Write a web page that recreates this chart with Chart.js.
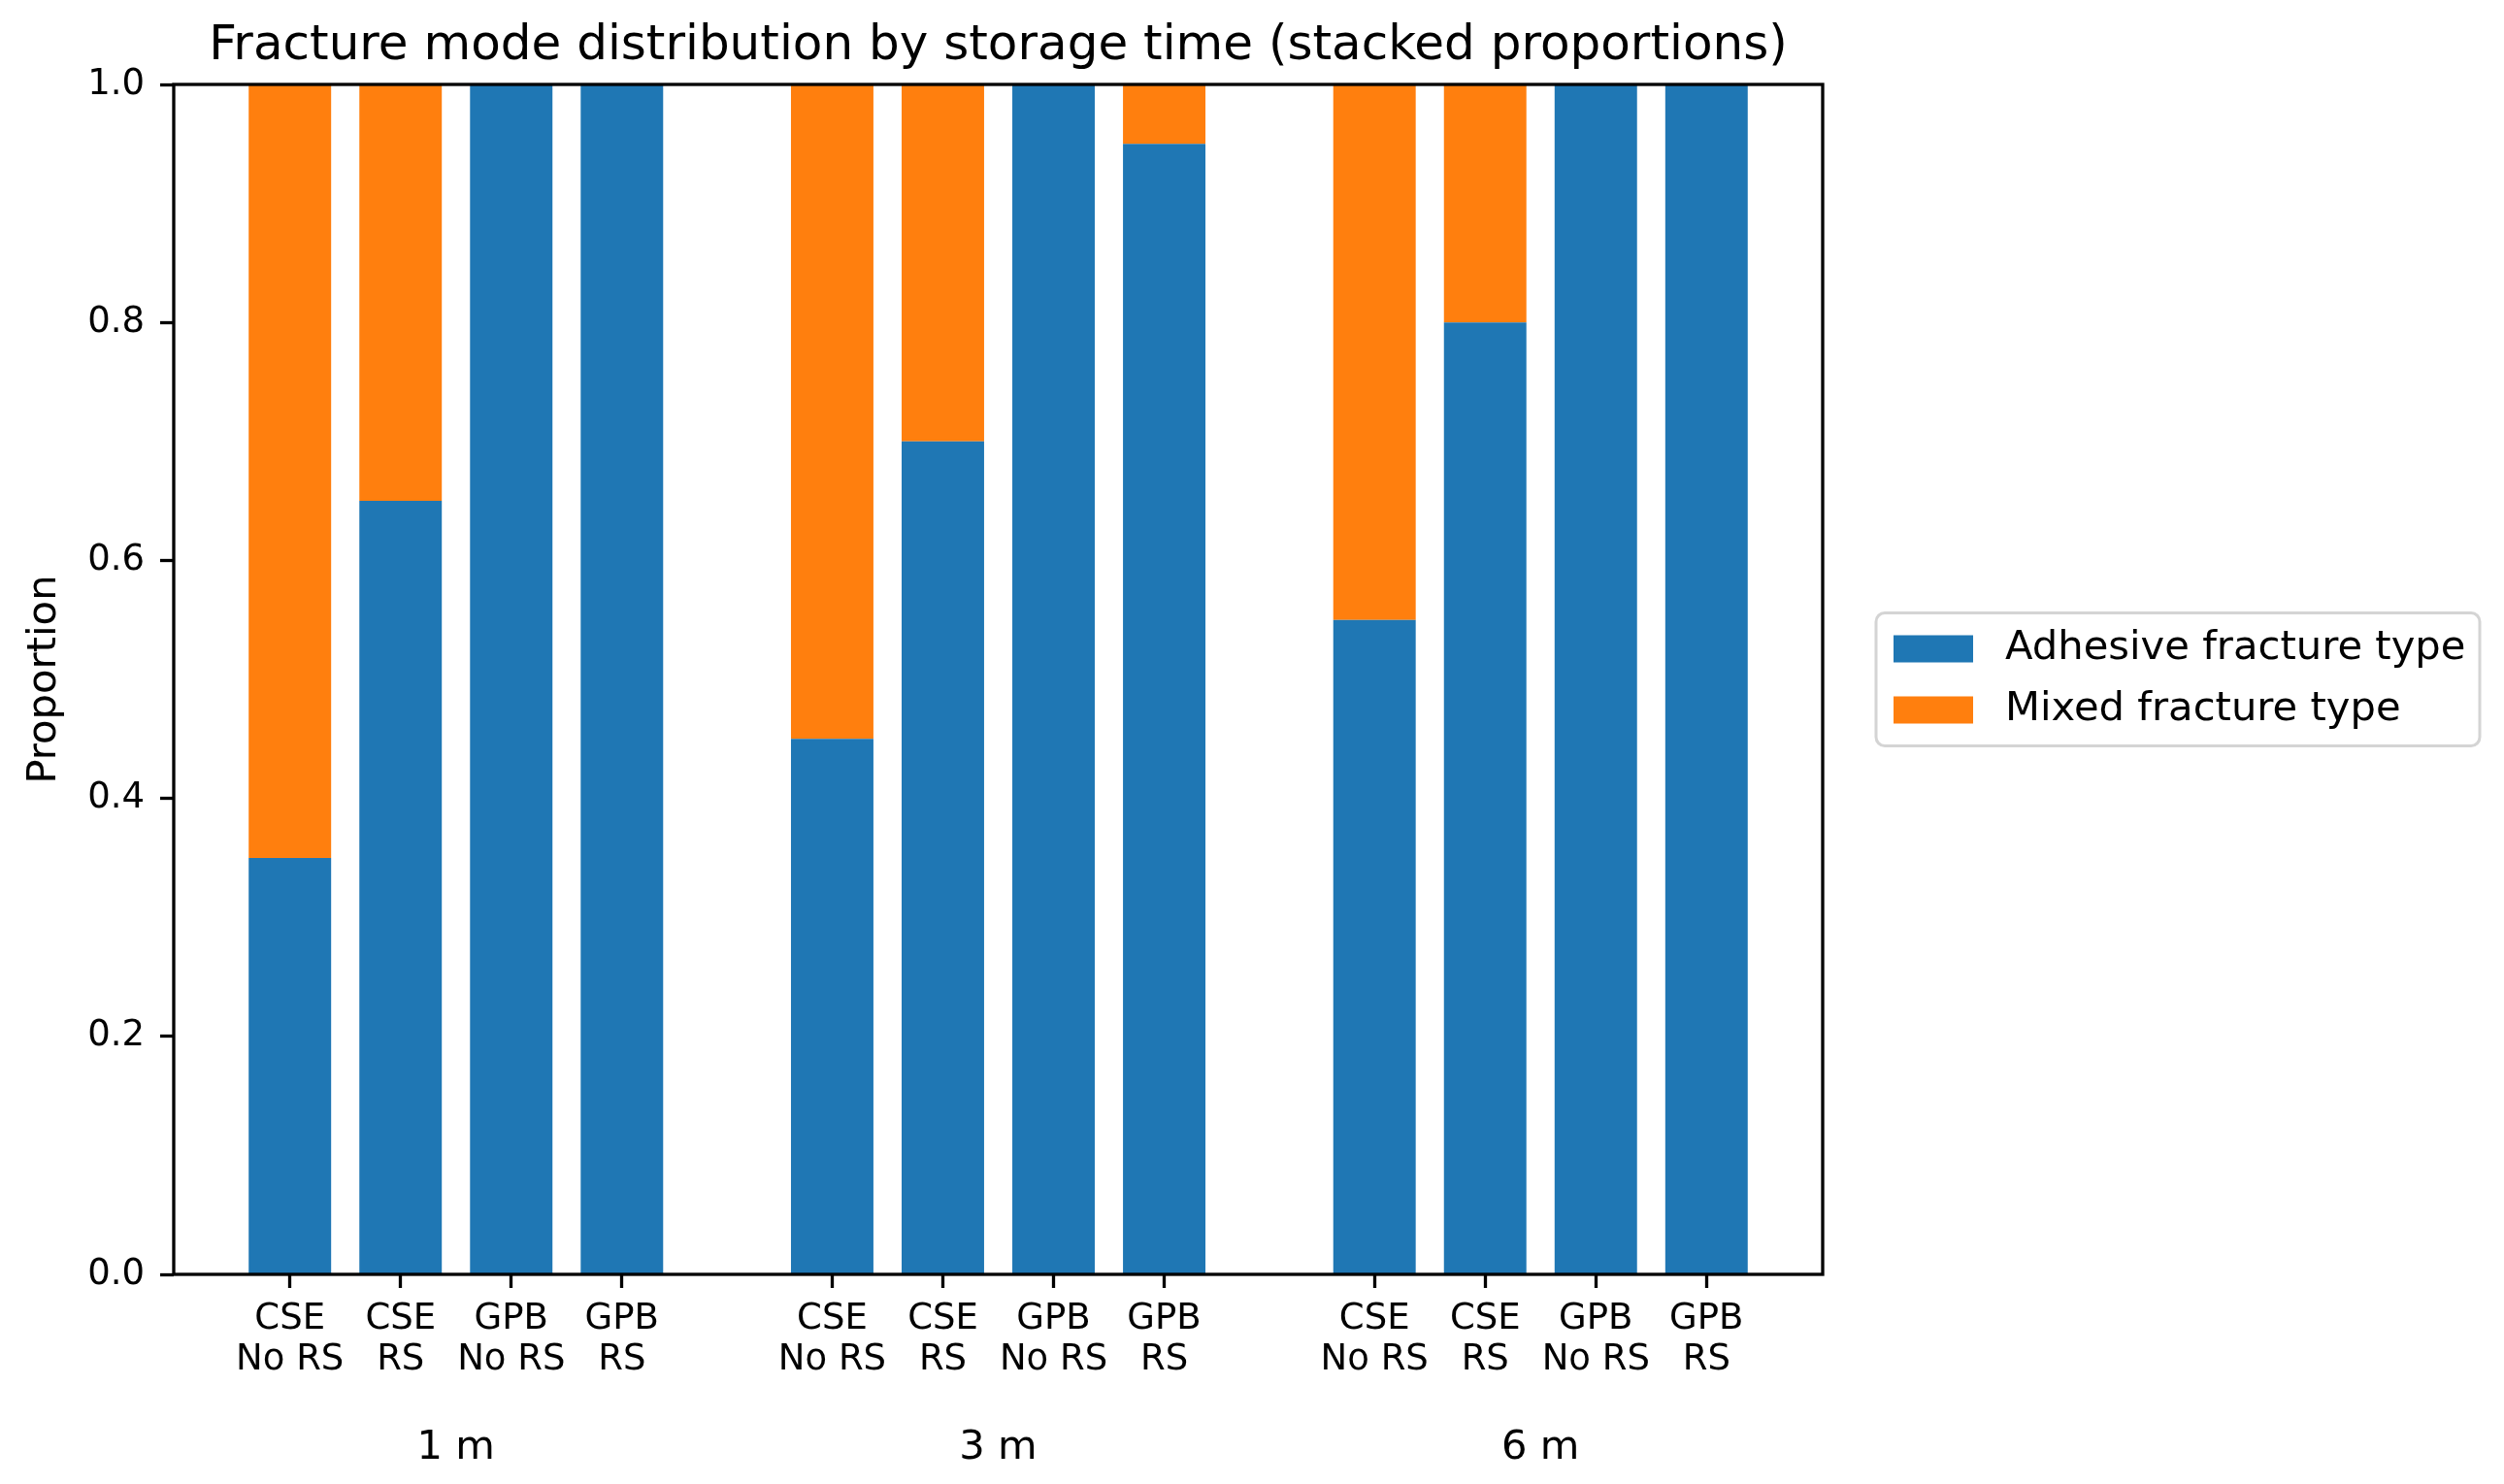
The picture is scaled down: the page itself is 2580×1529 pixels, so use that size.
<!DOCTYPE html>
<html>
<head>
<meta charset="utf-8">
<script src="https://cdn.jsdelivr.net/npm/chart.js@4.4.1/dist/chart.umd.min.js"></script>
<style>
  html, body { margin: 0; padding: 0; background: #ffffff; }
  #wrap { width: 2580px; height: 1529px; }
</style>
</head>
<body>
<div id="wrap"><canvas id="c" width="2580" height="1529"></canvas></div>
<script>
// ---- data ----
const storageTimes = ['1 m', '3 m', '6 m'];
const conditionLabels = [['CSE', 'No RS'], ['CSE', 'RS'], ['GPB', 'No RS'], ['GPB', 'RS']];
const seriesNames = ['Adhesive fracture type', 'Mixed fracture type'];
const adhesive = [0.35, 0.65, 1.00, 1.00,  0.45, 0.70, 1.00, 0.95,  0.55, 0.80, 1.00, 1.00];
const mixed    = [0.65, 0.35, 0.00, 0.00,  0.55, 0.30, 0.00, 0.05,  0.45, 0.20, 0.00, 0.00];
const yTickValues = [0.0, 0.2, 0.4, 0.6, 0.8, 1.0];

// ---- layout (positions along x, in bar units) ----
const GROUP_STRIDE = 4.9;
const BAR_FRACTION = 0.745;
const positions = [];
const tickText = [];
storageTimes.forEach((t, g) => conditionLabels.forEach((c, i) => {
  positions.push(g * GROUP_STRIDE + i);
  tickText.push(c);
}));
const groupCenters = storageTimes.map((t, g) => g * GROUP_STRIDE + (conditionLabels.length - 1) / 2);
const lo = positions[0] - BAR_FRACTION / 2;
const hi = positions[positions.length - 1] + BAR_FRACTION / 2;
const marg = 0.05 * (hi - lo);
const xMin = lo - marg, xMax = hi + marg;

const FONT = "'DejaVu Sans', sans-serif";
const BLUE = '#1f77b4', ORANGE = '#ff7f0e';

// center the title over the plotting area (as matplotlib does)
const titleOverArea = {
  id: 'titleOverArea',
  afterLayout(chart) {
    const tb = chart.titleBlock, a = chart.chartArea;
    if (tb) { tb.left = a.left; tb.right = a.right; tb.width = a.right - a.left; }
  }
};

const spines = {
  id: 'spines',
  afterDatasetsDraw(chart) {
    const a = chart.chartArea, ctx = chart.ctx;
    ctx.save();
    ctx.strokeStyle = '#000';
    ctx.lineWidth = 3.3;
    ctx.strokeRect(a.left, a.top, a.right - a.left, a.bottom - a.top);
    ctx.restore();
  }
};

const boxLegend = {
  id: 'boxLegend',
  afterDraw(chart) {
    const a = chart.chartArea, ctx = chart.ctx;
    const x = a.right + 55, w = 622, h = 137;
    const y = (a.top + a.bottom) / 2 - h / 2;
    ctx.save();
    ctx.beginPath();
    ctx.roundRect(x, y, w, h, 9);
    ctx.fillStyle = 'rgba(255,255,255,0.8)';
    ctx.fill();
    ctx.strokeStyle = '#d4d4d4';
    ctx.lineWidth = 3;
    ctx.stroke();
    ctx.font = '41.7px ' + FONT;
    ctx.textBaseline = 'middle';
    ctx.textAlign = 'left';
    chart.data.datasets.forEach((ds, k) => {
      const cy = y + 37 + k * 63;
      ctx.fillStyle = ds.backgroundColor;
      ctx.fillRect(x + 18, cy - 14, 82, 28);
      ctx.fillStyle = '#000';
      ctx.fillText(ds.label, x + 133, cy);
    });
    ctx.restore();
  }
};

new Chart(document.getElementById('c'), {
  type: 'bar',
  data: {
    datasets: [
      { label: seriesNames[0], data: positions.map((p, i) => ({ x: p, y: adhesive[i] })), backgroundColor: BLUE, borderWidth: 0, xAxisID: 'x', yAxisID: 'y' },
      { label: seriesNames[1], data: positions.map((p, i) => ({ x: p, y: mixed[i] })), backgroundColor: ORANGE, borderWidth: 0, xAxisID: 'x', yAxisID: 'y' }
    ]
  },
  plugins: [titleOverArea, spines, boxLegend],
  options: {
    responsive: false,
    devicePixelRatio: 1,
    animation: false,
    datasets: { bar: { barPercentage: BAR_FRACTION, categoryPercentage: 1.0 } },
    layout: { padding: { left: 0, right: 702, top: 0, bottom: 0 } },
    plugins: {
      legend: { display: false },
      tooltip: { enabled: false },
      title: {
        display: true,
        text: 'Fracture mode distribution by storage time (stacked proportions)',
        color: '#000',
        font: { family: FONT, size: 50, weight: 'normal', lineHeight: 1.2 },
        padding: { top: 18, bottom: 9 }
      }
    },
    scales: {
      x: {
        type: 'linear', position: 'bottom', stacked: true, weight: 0, offset: false,
        min: xMin, max: xMax,
        afterBuildTicks: s => { s.ticks = positions.map(v => ({ value: v })); },
        afterFit: s => { s.height = 120; },
        grid: { display: true, offset: false, drawOnChartArea: false, drawTicks: true, tickLength: 14, tickWidth: 3.3, tickColor: '#000' },
        border: { display: false },
        ticks: {
          autoSkip: false, maxRotation: 0, minRotation: 0, padding: 11, color: '#000',
          font: { family: FONT, size: 37, lineHeight: 1.15 },
          callback: (v, i) => tickText[i]
        }
      },
      x2: {
        type: 'linear', position: 'bottom', weight: 1, offset: false,
        min: xMin, max: xMax,
        afterBuildTicks: s => { s.ticks = groupCenters.map(v => ({ value: v })); },
        afterFit: s => { s.height = 96; },
        grid: { display: false, drawTicks: false, offset: false },
        border: { display: false },
        ticks: {
          autoSkip: false, maxRotation: 0, minRotation: 0, padding: 34, color: '#000',
          font: { family: FONT, size: 41.7, lineHeight: 1.2 },
          callback: (v, i) => storageTimes[i]
        }
      },
      y: {
        type: 'linear', position: 'left', stacked: true,
        min: 0, max: 1,
        afterBuildTicks: s => { s.ticks = yTickValues.map(v => ({ value: v })); },
        afterFit: s => { s.width = 179; },
        grid: { display: true, drawOnChartArea: false, drawTicks: true, tickLength: 14, tickWidth: 3.3, tickColor: '#000' },
        border: { display: false },
        ticks: {
          padding: 16, color: '#000',
          font: { family: FONT, size: 37 },
          callback: v => Number(v).toFixed(1)
        },
        title: {
          display: true, text: 'Proportion', color: '#000',
          font: { family: FONT, size: 41.7, lineHeight: 1.2 },
          padding: { top: 21, bottom: 0 }
        }
      }
    }
  }
});
</script>
</body>
</html>
